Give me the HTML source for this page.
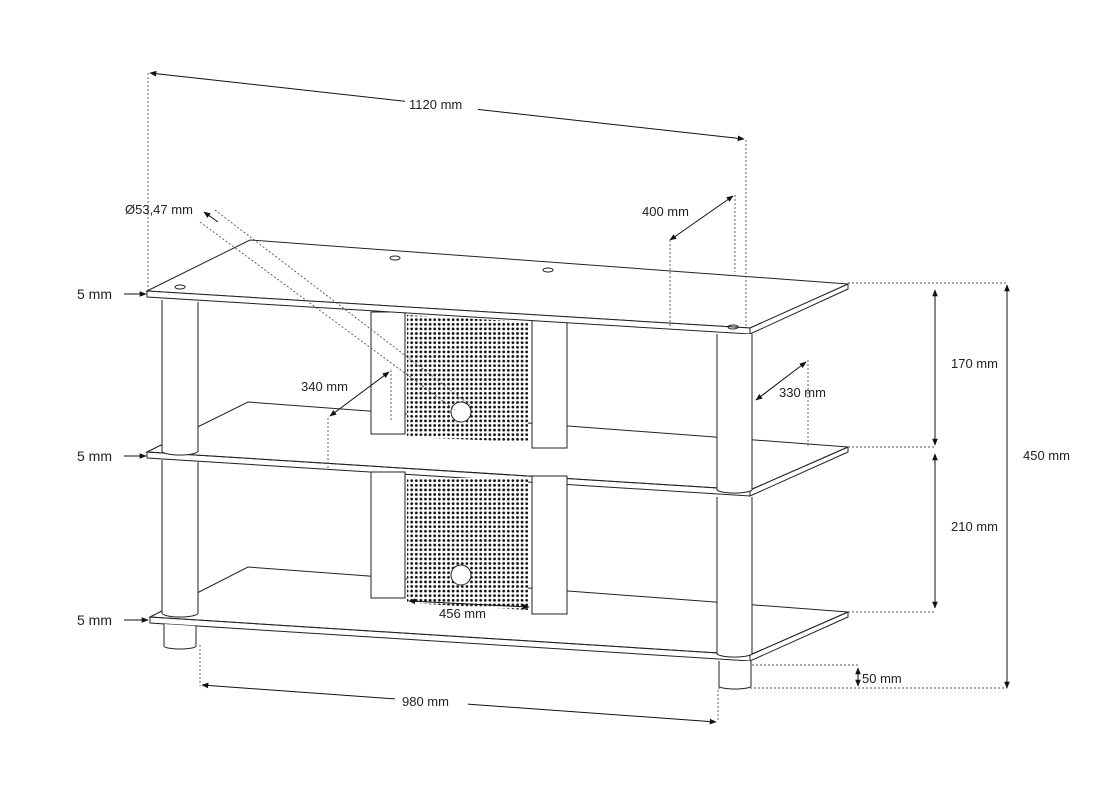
<!DOCTYPE html>
<html><head><meta charset="utf-8"><style>
html,body{margin:0;padding:0;background:#fff;}
svg{display:block;}
text{font-family:"Liberation Sans",sans-serif;font-size:13px;fill:#222;}
</style></head><body>
<svg width="1095" height="800" viewBox="0 0 1095 800" xmlns="http://www.w3.org/2000/svg">
<defs>
<pattern id="dots" width="4.6" height="4.6" patternUnits="userSpaceOnUse">
<rect width="4.6" height="4.6" fill="#fff"/><circle cx="2.3" cy="2.3" r="1.4" fill="#111"/>
</pattern>
<marker id="ar" viewBox="0 0 10 10" refX="9" refY="5" markerWidth="7" markerHeight="7" orient="auto-start-reverse">
<path d="M0,1 L10,5 L0,9 z" fill="#111"/></marker>
</defs>
<g stroke="#222" stroke-width="1" fill="none">
<polygon points="150,617 248,567 848,612 750,655"/>
<polygon points="150,617 750,655 750,661 150,623"/>
<polygon points="750,655 848,612 848,617 750,661"/>
<polygon points="147,452 248,402 848,447 750,490"/>
<polygon points="147,452 750,490 750,496 147,458"/>
<polygon points="750,490 848,447 848,452 750,496"/>
</g>
<g stroke="#222" stroke-width="1" fill="#fff">
<rect x="371" y="472" width="34" height="126"/>
<rect x="532" y="476" width="35" height="138"/>
<polygon points="407,478 528,478 528,610 407,603" fill="url(#dots)" stroke="none"/>
<circle cx="461" cy="575" r="10"/>
<rect x="371" y="312" width="34" height="122"/>
<rect x="532" y="320" width="35" height="128"/>
<polygon points="407,315 528,322 528,442 407,437" fill="url(#dots)" stroke="none"/>
<circle cx="461" cy="412" r="10"/>
</g>
<g stroke="#222" stroke-width="1" fill="none">
<polygon points="147,291 250,240 848,284 750,328"/>
<polygon points="147,291 750,328 750,334 147,297" fill="#fff"/>
<polygon points="750,328 848,284 848,289 750,334" fill="#fff"/>
<ellipse cx="180" cy="287" rx="5" ry="2"/>
<ellipse cx="395" cy="258" rx="5" ry="2"/>
<ellipse cx="548" cy="270" rx="5" ry="2"/>
<ellipse cx="733" cy="327" rx="5" ry="2"/>
</g>
<g fill="none" stroke="#555" stroke-width="0.9" stroke-dasharray="2,2">
<line x1="148" y1="73" x2="148" y2="290"/>
<line x1="746" y1="140" x2="746" y2="328"/>
<line x1="735" y1="195" x2="735" y2="272"/>
<line x1="670" y1="240" x2="670" y2="326"/>
<line x1="200" y1="222" x2="455" y2="410"/>
<line x1="215" y1="210" x2="470" y2="405"/>
<line x1="391" y1="370" x2="391" y2="420"/>
<line x1="328" y1="418" x2="328" y2="468"/>
<line x1="808" y1="360" x2="808" y2="446"/>
<line x1="848" y1="283" x2="1007" y2="283"/>
<line x1="848" y1="447" x2="935" y2="447"/>
<line x1="848" y1="612" x2="935" y2="612"/>
<line x1="752" y1="665" x2="860" y2="665"/>
<line x1="718" y1="688" x2="1007" y2="688"/>
<line x1="200" y1="645" x2="200" y2="686"/>
<line x1="718" y1="690" x2="718" y2="722"/>
</g>
<g stroke="#222" stroke-width="1" fill="#fff">
<path d="M162,300 L162,451 A18,4 0 0 0 198,451 L198,302"/>
<path d="M717,334 L717,490 A18,4 0 0 0 752,490 L752,334"/>
<path d="M162,460 L162,613 A18,4 0 0 0 198,613 L198,462"/>
<path d="M717,497 L717,654 A18,4 0 0 0 752,654 L752,497"/>
<path d="M164,624 L164,646 A16,3 0 0 0 196,646 L196,626"/>
<path d="M719,661 L719,686 A16,3 0 0 0 751,686 L751,661"/>
</g>
<g stroke="#111" stroke-width="1" fill="none">
<line x1="150" y1="73" x2="744" y2="139" marker-start="url(#ar)" marker-end="url(#ar)"/>
<line x1="670" y1="240" x2="733" y2="196" marker-start="url(#ar)" marker-end="url(#ar)"/>
<line x1="204" y1="212" x2="218" y2="222" marker-start="url(#ar)"/>
<line x1="330" y1="416" x2="389" y2="372" marker-start="url(#ar)" marker-end="url(#ar)"/>
<line x1="756" y1="400" x2="806" y2="362" marker-start="url(#ar)" marker-end="url(#ar)"/>
<line x1="935" y1="290" x2="935" y2="445" marker-start="url(#ar)" marker-end="url(#ar)"/>
<line x1="935" y1="454" x2="935" y2="608" marker-start="url(#ar)" marker-end="url(#ar)"/>
<line x1="1007" y1="285" x2="1007" y2="688" marker-start="url(#ar)" marker-end="url(#ar)"/>
<line x1="858" y1="668" x2="858" y2="686" marker-start="url(#ar)" marker-end="url(#ar)"/>
<line x1="202" y1="685" x2="716" y2="722" marker-start="url(#ar)" marker-end="url(#ar)"/>
<line x1="409" y1="601" x2="529" y2="607" marker-start="url(#ar)" marker-end="url(#ar)"/>
<line x1="124" y1="294" x2="146" y2="294" marker-end="url(#ar)"/>
<line x1="124" y1="456" x2="146" y2="456" marker-end="url(#ar)"/>
<line x1="124" y1="620" x2="148" y2="620" marker-end="url(#ar)"/>
</g>
<g stroke="#fff" stroke-width="12">
<line x1="405" y1="101" x2="478" y2="109"/>
<line x1="395" y1="698" x2="468" y2="703"/>
</g>
<rect x="436" y="609" width="60" height="11" fill="#fff"/>
<text x="409" y="109">1120 mm</text>
<text x="125" y="214">Ø53,47 mm</text>
<text x="642" y="216">400 mm</text>
<text x="301" y="391">340 mm</text>
<text x="779" y="397">330 mm</text>
<text x="951" y="368">170 mm</text>
<text x="951" y="531">210 mm</text>
<text x="1023" y="460">450 mm</text>
<text x="862" y="683">50 mm</text>
<text x="402" y="706">980 mm</text>
<text x="439" y="618">456 mm</text>
<text x="77" y="299" style="font-size:14px">5 mm</text>
<text x="77" y="461" style="font-size:14px">5 mm</text>
<text x="77" y="625" style="font-size:14px">5 mm</text>
</svg>
</body></html>
